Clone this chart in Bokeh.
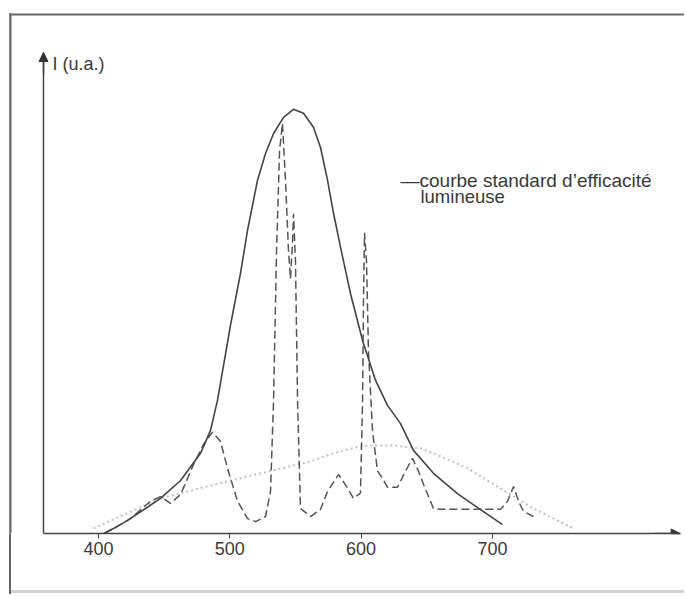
from bokeh.plotting import figure
from bokeh.models import Label, Arrow, NormalHead, FixedTicker, Range1d, LinearAxis, Span
from bokeh.embed import file_html
from bokeh.resources import INLINE

# ---- data (wavelength nm, intensity u.a.) ----
solid_wl = [403.8, 412.9, 422.1, 435.8, 447.2, 462.5, 477.7, 485.3, 490.6, 495.2, 500.5, 508.1,
            513.5, 521.1, 527.2, 533.3, 540.9, 548.5, 556.1, 563.7, 569.1, 574.4, 579.0, 584.3,
            591.9, 601.1, 611.0, 620.1, 630.0, 639.9, 655.1, 673.4, 688.7, 707.7]
solid_I = [0, 1.4, 3.1, 5.9, 8.3, 12.5, 18.9, 24.3, 31.4, 39.6, 49.1, 61.3,
           71.5, 83.3, 89.6, 94.3, 98.1, 100, 99.1, 95.8, 91.0, 83.3, 75.5, 67.5,
           56.6, 45.5, 36.1, 30.2, 25.9, 19.6, 14.2, 9.4, 6.1, 2.1]

dash_wl = [404.6, 424.4, 439.6, 447.2, 454.8, 462.5, 472.4, 480.0, 486.8, 492.9, 498.2, 505.9,
           513.5, 519.6, 527.2, 531.0, 533.3, 535.6, 537.9, 540.1, 542.4, 544.7, 546.2, 547.8,
           548.5, 550.0, 551.6, 553.8, 561.5, 569.1, 574.4, 582.8, 588.9, 594.2, 599.5, 601.1,
           601.8, 602.6, 604.1, 605.6, 608.7, 612.5, 616.3, 620.1, 627.7, 633.8, 639.1, 643.7,
           647.5, 655.1, 660.5, 706.2, 711.5, 716.1, 719.9, 723.7, 731.3]
dash_I = [0, 3.5, 7.6, 8.7, 7.1, 9.2, 16.3, 21.0, 23.9, 21.7, 15.4, 7.6,
          3.5, 2.8, 4.0, 9.9, 31.2, 66.7, 90.3, 96.7, 83.2, 66.7, 60.0, 69.0,
          75.4, 64.3, 31.2, 5.9, 4.0, 5.7, 9.9, 13.9, 11.1, 8.3, 9.5, 31.2,
          54.8, 70.9, 64.3, 43.0, 24.1, 14.7, 13.0, 10.9, 10.9, 14.7, 17.7, 14.7,
          11.6, 5.9, 5.7, 5.7, 7.6, 11.1, 7.6, 5.2, 4.0]

dot_wl = [396.2, 447.2, 498.2, 561.5, 579.0, 599.5, 622.4, 645.2, 655.1, 681.0, 706.2, 731.3, 761.8]
dot_I = [1.2, 8.3, 12.3, 17.0, 18.9, 20.6, 20.8, 20.1, 18.9, 15.4, 10.6, 5.9, 1.2]

x_ticks = [400, 500, 600, 700]

# ---- layout constants ----
x_start, x_end = 332.2, 846.3     # plot frame (outer box of the figure)
y_start, y_end = 0, 122.6
axis_x = 358.1                    # where the intensity axis stands
axis_top = 113.4                  # top of the intensity axis (arrow tip)
xaxis_end = 843.0                 # tip of the wavelength axis arrow

ink = "#3a3a3a"

p = figure(width=684, height=594, output_backend="svg", toolbar_location=None,
           x_range=Range1d(x_start, x_end), y_range=Range1d(y_start, y_end),
           y_axis_location=None,
           min_border_left=9, min_border_top=13, min_border_right=0, min_border_bottom=61)
p.outline_line_color = None
p.grid.visible = False
p.background_fill_color = "white"
p.border_fill_color = None
# outer box of the page figure: left edge continuing below the axis, faint bottom edge
p.styles = {"background": "linear-gradient(#666,#666) 9px 13px / 2px 581px no-repeat, "
                          "linear-gradient(#d2d2d2,#d2d2d2) 9px 590px / 675px 3px no-repeat"}

p.add_layout(Span(location=x_start, dimension="height", line_color="#666", line_width=4))
p.add_layout(Span(location=y_end, dimension="width", line_color="#666", line_width=4))

xa = p.xaxis[0]
xa.ticker = FixedTicker(ticks=x_ticks)
xa.bounds = (axis_x, xaxis_end)
xa.axis_line_color = "#444"
xa.axis_line_width = 1.5
xa.major_tick_line_color = "#444"
xa.major_tick_out = 5
xa.major_tick_in = 0
xa.minor_tick_line_color = None
xa.major_label_text_font = "Liberation Sans"
xa.major_label_text_font_size = "18px"
xa.major_label_text_color = ink
xa.major_label_standoff = 3

ya = LinearAxis(fixed_location=axis_x, ticker=FixedTicker(ticks=[]), bounds=(y_start, axis_top),
                axis_line_color="#444", axis_line_width=1.5,
                major_tick_line_color=None, minor_tick_line_color=None,
                major_label_text_color=None, major_label_standoff=0,
                major_tick_out=0, major_tick_in=0, minor_tick_out=0, minor_tick_in=0)
p.add_layout(ya, "left")

p.line(dot_wl, dot_I, line_color="#c0c0c0", line_width=2, line_dash="2 3")
p.line(dash_wl, dash_I, line_color="#555", line_width=1.5, line_dash="8 4")
p.line(solid_wl, solid_I, line_color="#444", line_width=1.6)

p.add_layout(Arrow(end=NormalHead(size=9, fill_color="#333", line_color="#333"),
                   x_start=axis_x, y_start=axis_top - 5, x_end=axis_x, y_end=axis_top,
                   line_color="#444", line_width=1.5))
p.add_layout(Arrow(end=NormalHead(size=9, fill_color="#333", line_color="#333"),
                   x_start=xaxis_end - 20, y_start=y_start, x_end=xaxis_end, y_end=y_start,
                   line_color="#444", line_width=1.5))

p.add_layout(Label(x=365.0, y=110.8, text="I (u.a.)", text_font="Liberation Sans",
                   text_font_size="18px", text_color=ink, text_baseline="middle"))
p.add_layout(Label(x=801.4, y=-4.0, text="λ(nm)", text_font="Liberation Sans",
                   text_font_size="18px", text_color=ink, text_baseline="middle"))
p.add_layout(Label(x=630.0, y=83.3, text="—courbe standard d’efficacité",
                   text_font="Liberation Sans", text_font_size="19px", text_color=ink,
                   text_baseline="middle"))
p.add_layout(Label(x=645.2, y=79.5, text="lumineuse",
                   text_font="Liberation Sans", text_font_size="18.5px", text_color=ink,
                   text_baseline="middle"))

open("out.html", "w").write(file_html(p, INLINE))
